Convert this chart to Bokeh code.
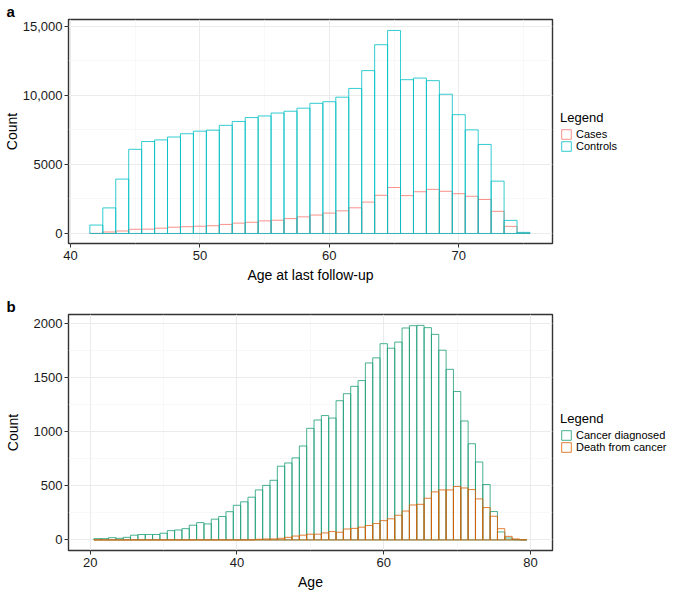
from bokeh.plotting import figure
from bokeh.models import FixedTicker, Range1d, Legend, LegendItem, Title
from bokeh.layouts import column
from bokeh.embed import file_html
from bokeh.resources import INLINE

# ---------------- data: panel a ----------------
ages_a = list(range(42, 76))
controls = [610, 1852, 3938, 6094, 6657, 6775, 6985, 7220, 7407, 7478, 7830, 8111,
            8392, 8510, 8720, 8850, 9072, 9423, 9541, 9869, 10502, 11791, 13667, 14698,
            11135, 11252, 11065, 10080, 8603, 7502, 6447, 3790, 950, 80]
cases = [10, 110, 180, 305, 315, 385, 455, 492, 525, 562, 656, 750, 810, 914, 961, 1078,
         1205, 1336, 1476, 1640, 1860, 2273, 2765, 3328, 2742, 3023, 3195, 3055, 2883,
         2695, 2461, 1605, 516, 40]
xticks_a = [40, 50, 60, 70]
yticks_a = [0, 5000, 10000, 15000]
ylabels_a = ["0", "5000", "10,000", "15,000"]

# ---------------- data: panel b ----------------
ages_b = list(range(21, 80))
diagnosed = [12, 12, 21, 15, 24, 44, 50, 50, 50, 62,
             86, 92, 104, 136, 160, 148, 192, 216, 261, 320,
             352, 395, 462, 504, 551, 681, 711, 758, 868, 1031,
             1108, 1149, 1126, 1286, 1351, 1419, 1472, 1635, 1682, 1813,
             1771, 1828, 1958, 1979, 1982, 1961, 1899, 1753, 1576, 1371,
             1099, 889, 720, 512, 263, 74, 18, 3, 0]
death = [0] * 22 + [6, 9, 9, 15, 24, 36, 44, 53, 53, 65, 77, 71, 101, 107, 118, 133,
                    151, 178, 195, 228, 267, 323, 329, 385, 444, 462, 462, 494, 480,
                    465, 379, 299, 219, 104, 33, 9, 2]
xticks_b = [20, 40, 60, 80]
yticks_b = [0, 500, 1000, 1500, 2000]

FONT = "Liberation Sans"
LEFT = 62
FW = 484


def style(p, xt, xminor, yt, yminor, ylabels=None, ylab_standoff=0):
    p.outline_line_color = "#333333"
    p.outline_line_width = 1.4
    p.background_fill_color = "white"
    p.border_fill_color = "white"
    for ax in (p.xaxis[0], p.yaxis[0]):
        ax.axis_line_color = None
        ax.major_tick_line_color = "#333333"
        ax.major_tick_out = 4
        ax.major_tick_in = 0
        ax.minor_tick_line_color = None
        ax.major_label_text_font = FONT
        ax.major_label_text_font_size = "13px"
        ax.major_label_text_color = "#1a1a1a"
        ax.axis_label_text_font = FONT
        ax.axis_label_text_font_size = "14px"
        ax.axis_label_text_font_style = "normal"
        ax.axis_label_text_color = "#000000"
    p.yaxis[0].major_label_standoff = 2
    p.yaxis[0].axis_label_standoff = ylab_standoff
    p.xaxis[0].major_label_standoff = 3
    p.xaxis[0].axis_label_standoff = 4
    p.xaxis[0].ticker = FixedTicker(ticks=xt, minor_ticks=xminor)
    p.yaxis[0].ticker = FixedTicker(ticks=yt, minor_ticks=yminor)
    if ylabels is not None:
        p.yaxis[0].major_label_overrides = {t: l for t, l in zip(yt, ylabels)}
    p.xgrid.grid_line_color = "#EBEBEB"
    p.ygrid.grid_line_color = "#EBEBEB"
    p.xgrid.grid_line_width = 1
    p.ygrid.grid_line_width = 1
    p.xgrid.minor_grid_line_color = "#F4F4F4"
    p.ygrid.minor_grid_line_color = "#F4F4F4"
    p.xgrid.minor_grid_line_width = 0.6
    p.ygrid.minor_grid_line_width = 0.6


def make_legend(items):
    return Legend(items=items, location="center_left", title="Legend",
                  title_text_font=FONT, title_text_font_size="13px",
                  title_text_font_style="normal", title_text_color="#000000",
                  label_text_font=FONT, label_text_font_size="11px",
                  label_text_color="#000000",
                  glyph_width=12, glyph_height=12, label_height=12, label_width=91,
                  label_standoff=4, spacing=0, padding=0, margin=8,
                  title_standoff=3,
                  border_line_color=None, background_fill_alpha=0)


def panel_title(txt):
    return Title(text=txt, align="left", offset=-LEFT, standoff=0,
                 text_font=FONT, text_font_size="15px", text_font_style="bold",
                 text_color="#000000")


# ---------------- panel a ----------------
pa = figure(frame_width=FW, frame_height=224, output_backend="svg", toolbar_location=None,
            x_range=Range1d(39.85, 77.24), y_range=Range1d(-724, 15492),
            min_border_left=LEFT, min_border_right=0,
            min_border_top=0, min_border_bottom=52,
            x_axis_label="Age at last follow-up", y_axis_label="Count")
style(pa, xticks_a, [45, 55, 65, 75], yticks_a, [2500, 7500, 12500], ylabels_a, 0)
r_cases = pa.vbar(x=ages_a, top=cases, bottom=0, width=1, fill_alpha=0,
                  line_color="#F8766D", line_alpha=0.8, line_width=1)
r_ctrl = pa.vbar(x=ages_a, top=controls, bottom=0, width=1, fill_alpha=0,
                 line_color="#00BFC4", line_alpha=0.8, line_width=1)
pa.add_layout(make_legend([LegendItem(label="Cases", renderers=[r_cases]),
                           LegendItem(label="Controls", renderers=[r_ctrl])]), "right")
pa.add_layout(panel_title("a"), "above")

# ---------------- panel b ----------------
pb = figure(frame_width=FW, frame_height=236, output_backend="svg", toolbar_location=None,
            x_range=Range1d(17.04, 83.0), y_range=Range1d(-97.6, 2082.6),
            min_border_left=LEFT, min_border_right=0,
            min_border_top=0, min_border_bottom=42,
            x_axis_label="Age", y_axis_label="Count")
style(pb, xticks_b, [30, 50, 70], yticks_b, [250, 750, 1250, 1750], None, 10)
r_diag = pb.vbar(x=ages_b, top=diagnosed, bottom=0, width=1, fill_alpha=0,
                 line_color="#1B9E77", line_alpha=0.8, line_width=1)
r_death = pb.vbar(x=ages_b, top=death, bottom=0, width=1, fill_alpha=0,
                  line_color="#D95F02", line_alpha=0.8, line_width=1)
pb.add_layout(make_legend([LegendItem(label="Cancer diagnosed", renderers=[r_diag]),
                           LegendItem(label="Death from cancer", renderers=[r_death])]), "right")
pb.add_layout(panel_title("b"), "above")

layout = column(pa, pb, spacing=0)
open("out.html", "w").write(file_html(layout, INLINE))
